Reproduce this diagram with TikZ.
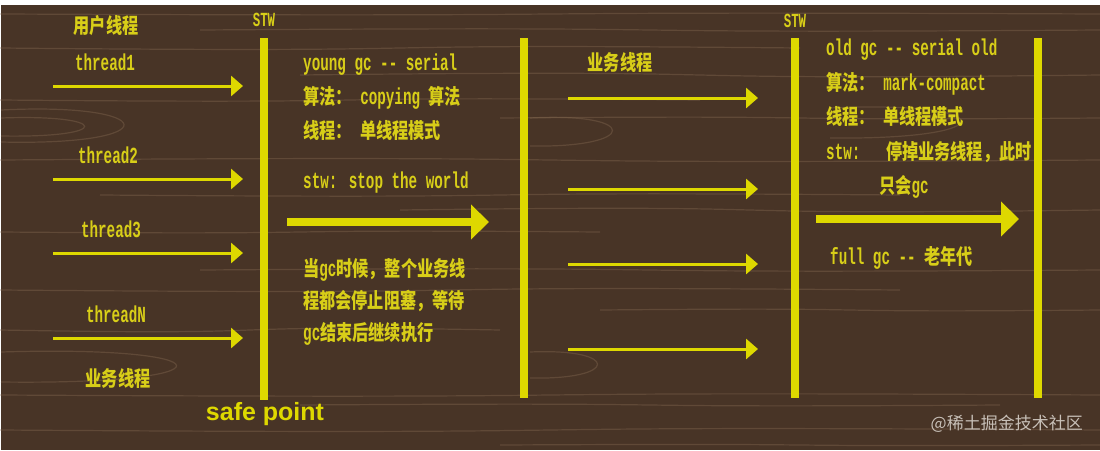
\documentclass[tikz,border=0pt]{standalone}
\usepackage{fontspec}
\setmainfont{Liberation Serif}
\newfontfamily\cjk[FakeStretch=0.77]{Noto Sans CJK SC}
\newfontfamily\cjkmark{Noto Sans CJK SC}
\newfontfamily\mono[FakeStretch=0.62]{Liberation Mono}
\newfontfamily\sans{Liberation Sans}
\usetikzlibrary{arrows.meta}

\definecolor{wood}{RGB}{72,52,38}
\definecolor{woodgrain}{RGB}{132,106,82}
\definecolor{gcyellow}{RGB}{222,216,0}
\definecolor{txtyellow}{RGB}{216,206,24}
\definecolor{markgray}{RGB}{200,192,184}

\newcommand{\zh}[1]{{\cjk\fontsize{21}{34}\selectfont #1}}

\begin{document}
\begin{tikzpicture}[x=1pt,y=-1pt,
  bar/.style={draw=gcyellow,line width=8pt},
  thread arrow/.style={draw=gcyellow,line width=3pt,-{Triangle[length=12pt,width=20pt]}},
  gc arrow/.style={draw=gcyellow,line width=8pt,-{Triangle[length=18pt,width=34pt]}},
  grain/.style={woodgrain,line width=1.2pt,opacity=0.4},
  label/.style={text=txtyellow,inner sep=0pt,font=\mono\bfseries\fontsize{23}{34}\selectfont},
  block/.style={label,align=left,anchor=north west}]

  \useasboundingbox (0,0) rectangle (1100,450);
  \fill[white] (0,0) rectangle (1100,450);
  \fill[wood] (1,5) rectangle (1100,450);
  % wood grain
  \foreach \y/\d/\a/\b in {14/3/0/1100,30/-4/200/1100,48/5/0/800,75/-6/300/1100,100/4/0/700,
                           118/-3/500/1100,160/-5/0/1100,195/4/100/900,210/-6/400/1100,
                           232/3/0/600,270/-4/200/1100,290/5/0/900,310/-3/600/1100,
                           330/6/0/500,395/4/0/1100,405/-3/300/1000,430/5/0/1100,445/-2/500/1100}
    \draw[grain] (\a,\y) .. controls (\a/3+\b/1.5,\y+\d) and (\a/1.5+\b/3,\y-\d) .. (\b,\y);
  \draw[grain] (1,110) .. controls (160,102) and (170,146) .. (1,142);
  \draw[grain] (1,118) .. controls (110,114) and (115,138) .. (1,136);
  \draw[grain] (1,352) .. controls (230,345) and (240,385) .. (1,382);
  \draw[grain] (530,118) .. controls (640,112) and (640,148) .. (530,146);
  \draw[grain] (530,352) .. controls (620,348) and (620,380) .. (530,378);
  \draw[grain] (830,108) .. controls (1000,100) and (1010,140) .. (830,138);

  % safe point bars
  \draw[bar] (264,38) -- (264,400);
  \draw[bar] (524,38) -- (524,398);
  \draw[bar] (795,38) -- (795,398);
  \draw[bar] (1038,38) -- (1038,398);
  \node[label,font=\mono\bfseries\fontsize{20}{20}\selectfont] (stw1) at (264,20) {STW};
  \node[label,font=\mono\bfseries\fontsize{20}{20}\selectfont] (stw2) at (795,21) {STW};

  % user threads
  \node[label] (user) at (106,26) {\zh{用户线程}};
  \foreach \y/\t/\x [count=\i] in {86/thread1/105,179/thread2/108,253/thread3/111,338/threadN/116}{
    \node[label] (th\i) at (\x,\y-24) {\t};
    \coordinate (in\i) at (53,\y);
    \coordinate (out\i) at (243,\y);
    \draw[thread arrow] (in\i) -- (out\i);
  }
  \node[label] (biz1) at (118,378) {\zh{业务线程}};
  \node[text=gcyellow,inner sep=0pt,font=\sans\bfseries\fontsize{25}{25}\selectfont] (safe) at (265,414) {safe point};

  % young gc
  \node[block] (young) at (303,54) {young gc -- serial\\
    \zh{算法：} copying \zh{算法}\\
    \zh{线程：} \zh{单线程模式}};
  \node[label,anchor=west] (stw) at (303,183) {stw: stop the world};
  \coordinate (gc1 in) at (287,222);
  \coordinate (gc1 out) at (489,222);
  \draw[gc arrow] (gc1 in) -- (gc1 out);
  \node[block,font=\mono\bfseries\fontsize{23}{32}\selectfont] (when) at (303,258)
    {\zh{当}gc\zh{时候，整个业务线}\\
     \zh{程都会停止阻塞，等待}\\
     gc\zh{结束后继续执行}};

  % business threads
  \node[label] (biz2) at (620,62) {\zh{业务线程}};
  \foreach \y [count=\i] in {98,189,264,349}{
    \coordinate (bin\i) at (568,\y);
    \coordinate (bout\i) at (758,\y);
    \draw[thread arrow] (bin\i) -- (bout\i);
  }

  % old gc
  \node[block,font=\mono\bfseries\fontsize{23}{34.5}\selectfont] (old) at (826,39)
    {old gc -- serial old\\
     \zh{算法：} mark-compact\\
     \zh{线程：} \zh{单线程模式}\\
     stw:~~~\zh{停掉业务线程，此时}\\
     \hspace*{53pt}\zh{只会}gc};
  \coordinate (gc2 in) at (816,219);
  \coordinate (gc2 out) at (1019,219);
  \draw[gc arrow] (gc2 in) -- (gc2 out);
  \node[label,anchor=west] (full) at (830,258) {full gc -- \zh{老年代}};

  \node[text=markgray,inner sep=0pt,anchor=east,font=\cjkmark\fontsize{17}{17}\selectfont] (mark) at (1083,424) {@稀土掘金技术社区};
\end{tikzpicture}
\end{document}
